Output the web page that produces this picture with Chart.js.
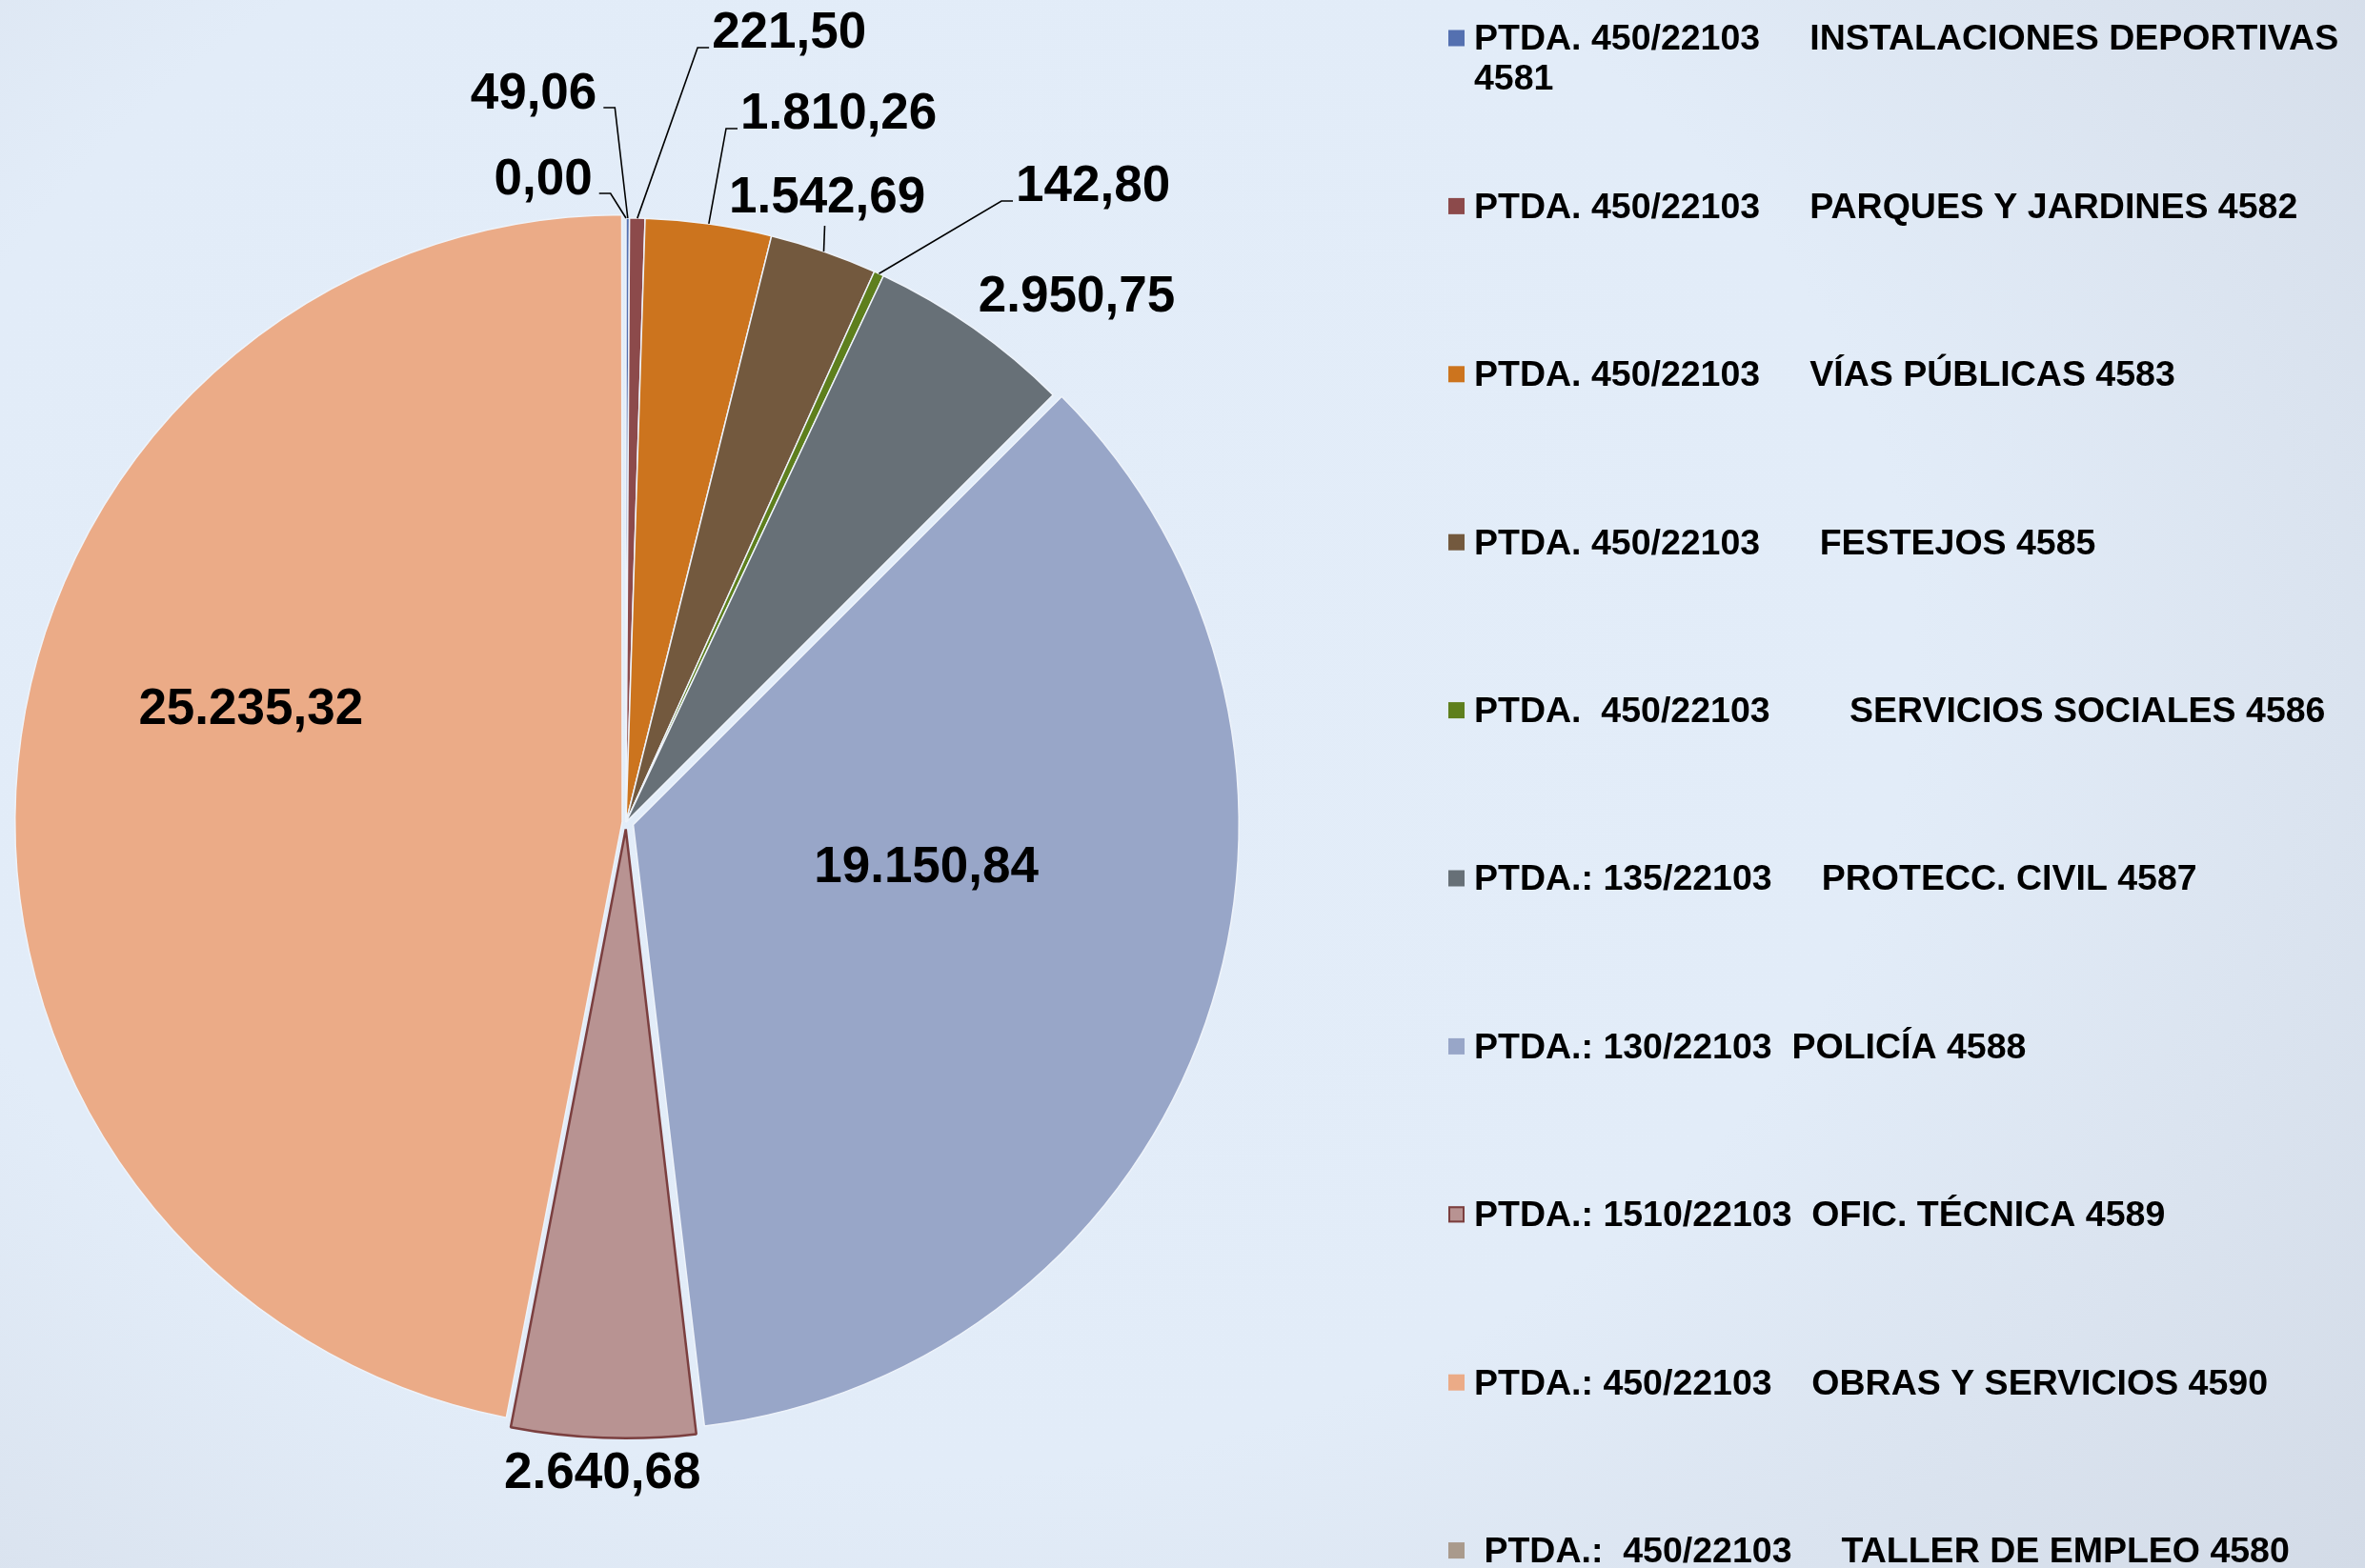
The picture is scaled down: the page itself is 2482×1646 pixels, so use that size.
<!DOCTYPE html>
<html><head><meta charset="utf-8">
<script src="https://cdn.jsdelivr.net/npm/chart.js@4.4.1/dist/chart.umd.min.js"></script>
<style>
html,body{margin:0;padding:0;width:2482px;height:1646px;overflow:hidden;}
body{background:radial-gradient(ellipse 78% 95% at 38% 42%, #e3edf9 0%, #e2ecf8 55%, #d3dbe7 100%);}
#c{position:absolute;left:0;top:0;}
</style></head>
<body>
<canvas id="c" width="2482" height="1646"></canvas>
<script>
const categories = [
  ["PTDA. 450/22103     INSTALACIONES DEPORTIVAS", "4581"],
  "PTDA. 450/22103     PARQUES Y JARDINES 4582",
  "PTDA. 450/22103     VÍAS PÚBLICAS 4583",
  "PTDA. 450/22103      FESTEJOS 4585",
  "PTDA.  450/22103        SERVICIOS SOCIALES 4586",
  "PTDA.: 135/22103     PROTECC. CIVIL 4587",
  "PTDA.: 130/22103  POLICÍA 4588",
  "PTDA.: 1510/22103  OFIC. TÉCNICA 4589",
  "PTDA.: 450/22103    OBRAS Y SERVICIOS 4590",
  " PTDA.:  450/22103     TALLER DE EMPLEO 4580"
];
const values = [49.06, 221.50, 1810.26, 1542.69, 142.80, 2950.75, 19150.84, 2640.68, 25235.32, 0.00];
const sliceColors = ["#5470b0", "#8c4a4b", "#cc741e", "#73593e", "#5e7f1d", "#677077", "#98a6c8", "#b89392", "#ebab87", "#a99a8c"];
const sliceBorders = ["#eef3fa", "#eef3fa", "#eef3fa", "#eef3fa", "#eef3fa", "#eef3fa", "#eef3fa", "#7b3f3f", "#eef3fa", "#eef3fa"];

function fmt(v){
  const parts = v.toFixed(2).split('.');
  return parts[0].replace(/\B(?=(\d{3})+(?!\d))/g, '.') + ',' + parts[1];
}

// label placement (relative to pie centre, in radius units) and leader style
const labelPlacement = [
  {p:[-0.153,-1.205], leader:'left'},
  {p:[0.270,-1.306], leader:'right'},
  {p:[0.352,-1.172], leader:'right'},
  {p:[0.333,-1.033], leader:'below'},
  {p:[0.773,-1.052], leader:'right'},
  {p:[0.746,-0.869], leader:null},
  {p:[0.497,0.077], leader:null},
  {p:[-0.039,1.080], leader:null},
  {p:[-0.621,-0.185], leader:null},
  {p:[-0.137,-1.063], leader:'left'}
];

const labelPlugin = {
  id:'pieLabels',
  afterDatasetsDraw(chart){
    const ctx = chart.ctx;
    const meta = chart.getDatasetMeta(0);
    ctx.save();
    ctx.font = 'bold 53px "Liberation Sans", Arial, sans-serif';
    ctx.fillStyle = '#000';
    ctx.textAlign = 'center';
    ctx.textBaseline = 'middle';
    ctx.strokeStyle = '#000';
    ctx.lineWidth = 1.6;
    meta.data.forEach((arc, i) => {
      const pl = labelPlacement[i];
      const R = arc.outerRadius;
      const lx = arc.x + pl.p[0]*R, ly = arc.y + pl.p[1]*R;
      const txt = fmt(chart.data.datasets[0].data[i]);
      const w = ctx.measureText(txt).width;
      if (pl.leader){
        const mid = (arc.startAngle + arc.endAngle)/2;
        const ax = arc.x + Math.cos(mid)*R, ay = arc.y + Math.sin(mid)*R;
        ctx.beginPath();
        if (pl.leader === 'left'){
          const sx = lx + w/2 + 7, sy = ly + 14;
          ctx.moveTo(sx, sy); ctx.lineTo(sx+12, sy); ctx.lineTo(ax, ay);
        } else if (pl.leader === 'right'){
          const sx = lx - w/2 - 3, sy = ly + 15;
          ctx.moveTo(sx, sy); ctx.lineTo(sx-12, sy); ctx.lineTo(ax, ay);
        } else {
          ctx.moveTo(ax, ay); ctx.lineTo(ax+1, ly + 29);
        }
        ctx.stroke();
      }
      ctx.fillText(txt, lx, ly);
    });
    ctx.restore();
  }
};

const legendPlugin = {
  id:'sideLegend',
  afterDraw(chart){
    const ctx = chart.ctx;
    const ds = chart.data.datasets[0];
    const x0 = 1520, top = 40, step = 176.4, box = 17, lineH = 42;
    ctx.save();
    ctx.font = 'bold 37.5px "Liberation Sans", Arial, sans-serif';
    ctx.textBaseline = 'middle';
    ctx.textAlign = 'left';
    chart.data.labels.forEach((lab, i) => {
      const y = top + i*step;
      ctx.fillStyle = ds.backgroundColor[i];
      ctx.fillRect(x0, y - box/2, box, box);
      if (ds.borderColor[i] !== '#eef3fa'){
        ctx.strokeStyle = ds.borderColor[i]; ctx.lineWidth = 2;
        ctx.strokeRect(x0+1, y - box/2 + 1, box-2, box-2);
      }
      ctx.fillStyle = '#000';
      const lines = Array.isArray(lab) ? lab : [lab];
      lines.forEach((t, k) => ctx.fillText(t, x0 + 27, y + 2 + k*lineH));
    });
    ctx.restore();
  }
};

new Chart(document.getElementById('c'), {
  type:'pie',
  data:{
    labels: categories,
    datasets:[{
      data: values,
      backgroundColor: sliceColors,
      borderColor: sliceBorders,
      borderWidth: [1.5,1.5,1.5,1.5,1.5,1.5,1.5,2.5,1.5,1.5],
      offset: [0,0,0,0,0,0,32,30,16,0]
    }]
  },
  options:{
    responsive:false,
    maintainAspectRatio:false,
    devicePixelRatio:1,
    animation:false,
    radius:634,
    layout:{padding:{left:0, right:1168, top:80, bottom:0}},
    plugins:{legend:{display:false}, tooltip:{enabled:false}}
  },
  plugins:[labelPlugin, legendPlugin]
});
</script>
</body></html>
